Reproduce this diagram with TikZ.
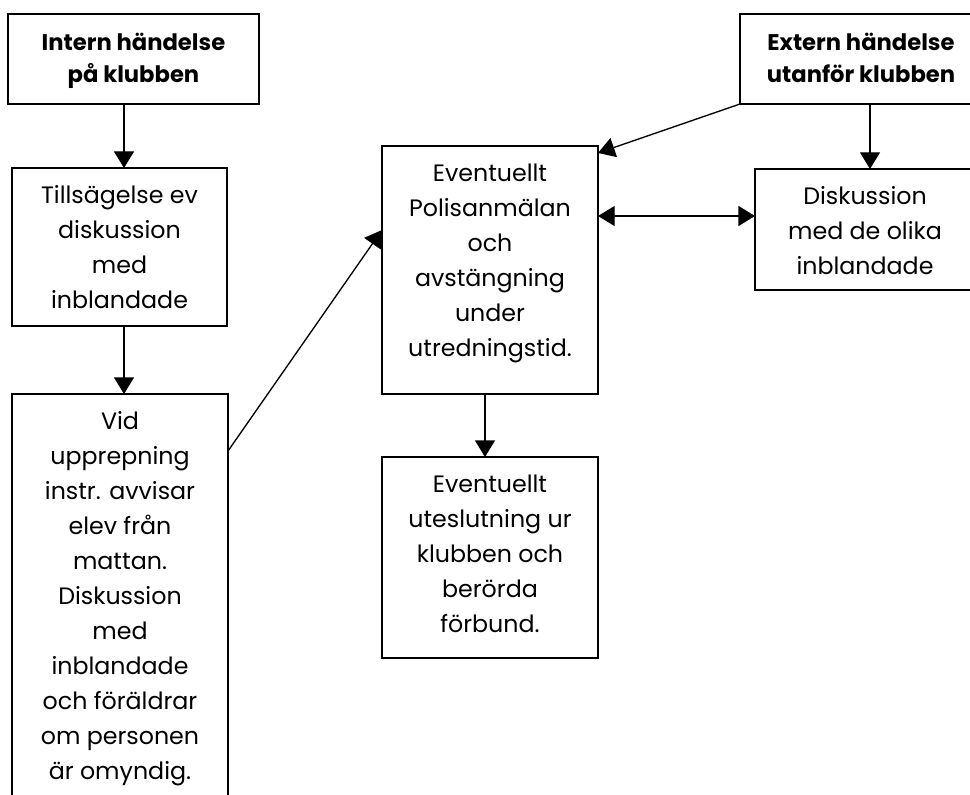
\documentclass[tikz,border=0pt]{standalone}
\usepackage{fontspec}
\setmainfont{Poppins}
\usetikzlibrary{arrows.meta,calc}
\tikzset{
  boxnode/.style={draw, line width=1pt, inner sep=0pt, outer sep=0pt, rectangle},
  txt/.style={anchor=north, inner sep=0pt, align=center, font=\fontsize{17.8}{26.25}\selectfont},
  btxt/.style={anchor=north, inner sep=0pt, align=center, font=\fontsize{17}{24}\selectfont\bfseries},
  arr/.style={line width=1pt, -{Triangle[length=12.5pt,width=15pt]}},
  darr/.style={line width=1pt, {Triangle[length=12.5pt,width=15pt]}-{Triangle[length=12.5pt,width=15pt]}},
}
\begin{document}
\begin{tikzpicture}[x=0.75pt,y=-0.75pt]
\useasboundingbox (0,0) rectangle (970,795);
\clip (0,0) rectangle (970,795);
% boxes
\node[boxnode, minimum width=188.25pt, minimum height=67.5pt] (b1) at (133.5,59) {};
\node[boxnode, minimum width=181.5pt, minimum height=67.5pt] (ext) at (861,59) {};
\node[boxnode, minimum width=165pt, minimum height=90.75pt] (b5) at (865,229.5) {};
\node[boxnode, minimum width=161.25pt, minimum height=118.5pt] (b2) at (119.5,247) {};
\node[boxnode, minimum width=162pt, minimum height=319.5pt] (b3) at (120,607) {};
\node[boxnode, minimum width=162pt, minimum height=186pt] (b4) at (490,270) {};
\node[boxnode, minimum width=162pt, minimum height=150.75pt] (b6) at (490,557.5) {};
% texts
\node[btxt, yshift=-10.2pt] (t1) at (b1.north) {\strut Intern händelse\\på klubben};
\node[btxt, yshift=-10.2pt] (text) at (ext.north) {\strut Extern händelse\\utanför klubben};
\node[txt, yshift=-8.2pt] (t5) at (b5.north) {\strut Diskussion\\med de olika\\inblandade};
\node[txt, yshift=-8.2pt] (t2) at (b2.north) {\strut Tillsägelse ev\\diskussion\\med\\inblandade};
\node[txt, yshift=-8.2pt] (t3) at (b3.north) {\strut Vid\\upprepning\\instr. avvisar\\elev från\\mattan.\\Diskussion\\med\\inblandade\\och föräldrar\\om personen\\är omyndig.};
\node[txt, yshift=-8.2pt] (t4) at (b4.north) {\strut Eventuellt\\Polisanmälan\\och\\avstängning\\under\\utredningstid.};
\node[txt, yshift=-8.2pt] (t6) at (b6.north) {\strut Eventuellt\\uteslutning ur\\klubben och\\berörda\\förbund.};
% helper coordinates
\coordinate (xa) at (124,0);
\coordinate (xb) at (485,0);
\coordinate (xc) at (870,0);
\coordinate (yh) at (0,216);
\coordinate (s3) at ($(b3.north east)+(0,57)$);
\coordinate (e4) at ($(b4.north west)+(0,84)$);
\coordinate (e4b) at ($(b4.north east)+(0,7)$);
% connectors
\draw[arr] (b1.south -| xa) -- (b2.north -| xa);
\draw[arr] (b2.south -| xa) -- (b3.north -| xa);
\draw[arr] (s3) -- (e4);
\draw[arr] (ext.south west) -- (e4b);
\draw[darr] (b4.east |- yh) -- (b5.west |- yh);
\draw[arr] (ext.south -| xc) -- (b5.north -| xc);
\draw[arr] (b4.south -| xb) -- (b6.north -| xb);
\end{tikzpicture}
\end{document}
